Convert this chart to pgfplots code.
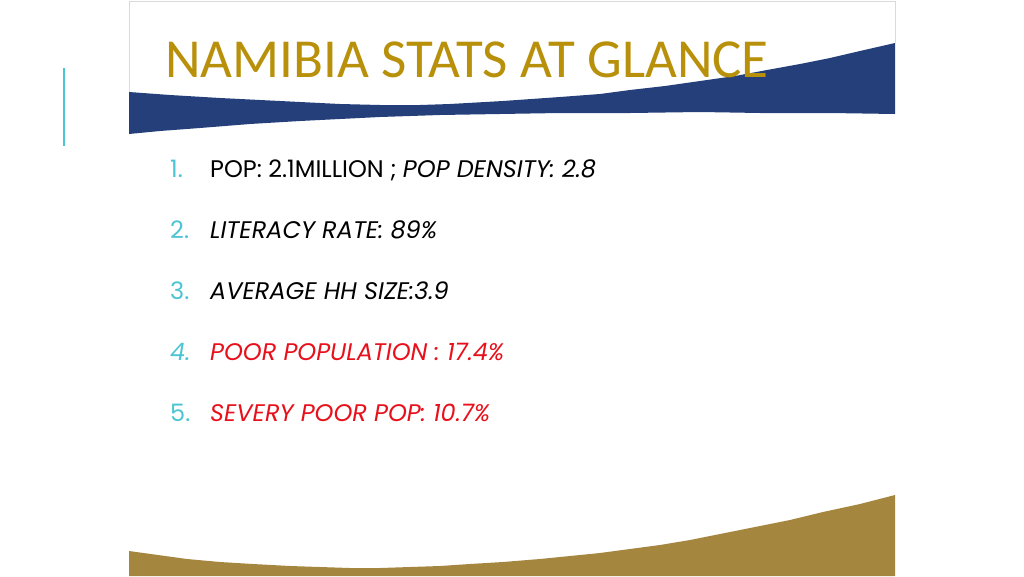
\documentclass[border=0pt]{standalone}
\usepackage{pgfplots}
\pgfplotsset{compat=1.18}
\usepackage{fontspec}
\setmainfont{Poppins}
\newfontfamily\titlefont{Carlito}

\definecolor{navy}{RGB}{36,63,122}
\definecolor{sand}{RGB}{165,134,62}
\definecolor{titlegold}{RGB}{184,144,10}
\definecolor{tealnum}{RGB}{75,196,212}
\definecolor{alert}{RGB}{232,16,26}
\definecolor{frame}{RGB}{218,218,218}

\begin{document}
\begin{tikzpicture}
\begin{axis}[
  width=1024pt, height=576pt, scale only axis,
  xmin=0, xmax=1024, ymin=0, ymax=576, y dir=reverse,
  hide axis, clip=false,
]
% page
\addplot[fill=white, draw=none] coordinates {(0,0) (1024,0) (1024,576) (0,576) (0,0)};
% panel outline
\addplot[frame, line width=1pt] coordinates {(129,92) (129,1) (895,1) (895,43)};
% left accent bar
\addplot[tealnum, line width=2pt] coordinates {(64,68) (64,146)};
% blue swoosh
\addplot[fill=navy, draw=none] coordinates {
  (129,92) (170,95) (220,98) (260,100) (300,102) (340,104) (380,105) (420,105)
  (450,104) (503,101) (560,97) (600,94) (630,90) (665,86) (700,81) (735,76)
  (767,70) (800,64) (830,58) (860,51) (895,43)
  (895,114) (830,113) (760,113) (700,112) (630,113) (560,113) (500,114)
  (440,115) (380,117) (340,119) (300,121) (250,124) (200,128) (160,131) (129,134) (129,92)};
% gold swoosh
\addplot[fill=sand, draw=none] coordinates {
  (129,551) (158,555) (187,559) (220,562) (253,564) (290,566) (320,567) (350,568)
  (380,568) (410,567) (440,566) (470,564) (503,562) (540,559) (570,556) (600,553)
  (630,549) (660,545) (690,540) (715,535) (740,530) (765,525) (790,520) (823,512)
  (860,504) (895,495) (895,576) (129,576) (129,551)};

\node[anchor=base west, inner sep=0pt, text=titlegold, font=\titlefont\fontsize{55}{55}\selectfont]
  at (axis cs:165,77) {NAMIBIA STATS AT GLANCE};

\def\itemfont{\fontsize{24}{24}\selectfont}
\node[anchor=base west, inner sep=0pt, text=tealnum, font=\itemfont] at (axis cs:170,177) {1.};
\node[anchor=base west, inner sep=0pt, text=tealnum, font=\itemfont] at (axis cs:170,238) {2.};
\node[anchor=base west, inner sep=0pt, text=tealnum, font=\itemfont] at (axis cs:170,299) {3.};
\node[anchor=base west, inner sep=0pt, text=tealnum, font=\itemfont\itshape] at (axis cs:170,360) {4.};
\node[anchor=base west, inner sep=0pt, text=tealnum, font=\itemfont] at (axis cs:170,421) {5.};

\node[anchor=base west, inner sep=0pt, text=black, font=\itemfont] at (axis cs:210,177) {POP: 2.1MILLION ; \textit{POP DENSITY: 2.8}};
\node[anchor=base west, inner sep=0pt, text=black, font=\itemfont\itshape] at (axis cs:210,238) {LITERACY RATE: 89\%};
\node[anchor=base west, inner sep=0pt, text=black, font=\itemfont\itshape] at (axis cs:210,299) {AVERAGE HH SIZE:3.9};
\node[anchor=base west, inner sep=0pt, text=alert, font=\itemfont\itshape] at (axis cs:210,360) {POOR POPULATION : 17.4\%};
\node[anchor=base west, inner sep=0pt, text=alert, font=\itemfont\itshape] at (axis cs:210,421) {SEVERY POOR POP: 10.7\%};
\end{axis}
\end{tikzpicture}
\end{document}
